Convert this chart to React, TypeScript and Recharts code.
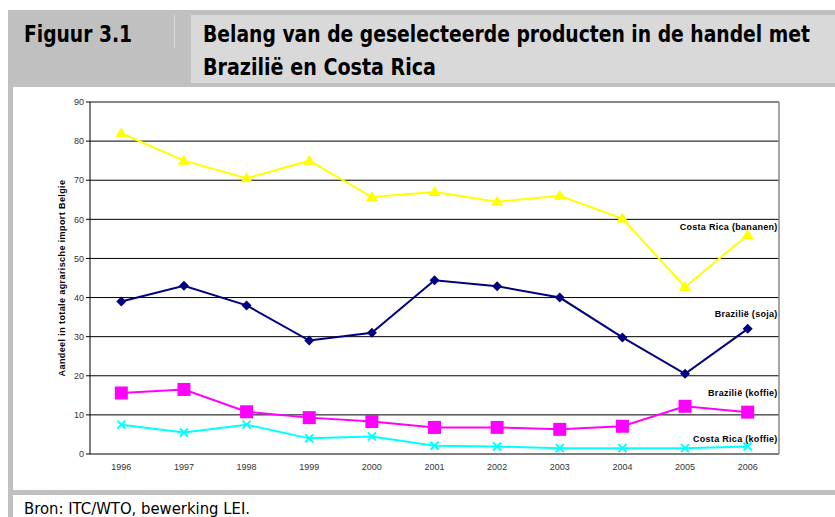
import {
  LineChart,
  Line,
  XAxis,
  YAxis,
  CartesianGrid,
  ReferenceLine,
  LabelList,
} from "recharts";

const years = [1996, 1997, 1998, 1999, 2000, 2001, 2002, 2003, 2004, 2005, 2006];
const crBananen = [82, 75, 70.5, 75, 65.7, 67, 64.5, 66, 60.2, 42.7, 56];
const brSoja = [39, 43, 38, 29, 31, 44.4, 42.9, 40, 29.8, 20.5, 32];
const brKoffie = [15.6, 16.5, 10.8, 9.3, 8.3, 6.8, 6.8, 6.3, 7.1, 12.2, 10.7];
const crKoffie = [7.5, 5.5, 7.5, 4, 4.5, 2.1, 1.9, 1.5, 1.5, 1.5, 1.9];
const yTicks = [0, 10, 20, 30, 40, 50, 60, 70, 80, 90];
const edgeTicks = [1995.5, 1996.5, 1997.5, 1998.5, 1999.5, 2000.5, 2001.5, 2002.5, 2003.5, 2004.5, 2005.5, 2006.5];

const data = years.map((year, i) => ({
  year,
  crBananen: crBananen[i],
  brSoja: brSoja[i],
  brKoffie: brKoffie[i],
  crKoffie: crKoffie[i],
}));

const headFont = '"DejaVu Sans", sans-serif';
const arial = '"Liberation Sans", Arial, sans-serif';

const triangle = (p: any) => (
  <polygon
    key={p.index}
    points={`${p.cx},${p.cy - 6} ${p.cx - 6},${p.cy + 4} ${p.cx + 6},${p.cy + 4}`}
    fill="#ffff00"
  />
);
const diamond = (p: any) => (
  <polygon
    key={p.index}
    points={`${p.cx},${p.cy - 5} ${p.cx + 5},${p.cy} ${p.cx},${p.cy + 5} ${p.cx - 5},${p.cy}`}
    fill="#000080"
  />
);
const square = (p: any) => (
  <rect key={p.index} x={p.cx - 6.5} y={p.cy - 6.5} width={13} height={13} fill="#ff00ff" />
);
const cross = (p: any) => (
  <g key={p.index} stroke="#00ffff" strokeWidth={2}>
    <line x1={p.cx - 4} y1={p.cy - 4} x2={p.cx + 4} y2={p.cy + 4} />
    <line x1={p.cx - 4} y1={p.cy + 4} x2={p.cx + 4} y2={p.cy - 4} />
  </g>
);

// name tag next to the last point of a series
const endLabel = (text: string, dy: number) => (p: any) => {
  if (p.index !== years.length - 1) return null;
  return (
    <text
      x={p.x + 30}
      y={p.y - dy}
      textAnchor="end"
      dominantBaseline="central"
      fontFamily={arial}
      fontSize={9}
      fontWeight="bold"
      letterSpacing={0.3}
      fill="#000"
    >
      {text}
    </text>
  );
};

// condensed header text: smaller font stretched up, then fit to the measured width
const SY = 0.78;
const Squeezed = ({ x, y, w, size, bold, children }: any) => (
  <g transform={`translate(${x},${y}) scale(1,${1 / SY})`}>
    <text
      x={0}
      y={0}
      fontFamily={headFont}
      fontWeight={bold ? "bold" : "normal"}
      fontSize={size * SY}
      fill="#000"
      textLength={w}
      lengthAdjust="spacingAndGlyphs"
    >
      {children}
    </text>
  </g>
);

export default function App() {
  return (
    <div style={{ position: "fixed", left: 0, top: 0, width: 835, height: 517, background: "#fff", overflow: "hidden" }}>
      {/* header, frame and source line */}
      <svg width={835} height={517} style={{ position: "absolute", left: 0, top: 0 }}>
        <rect x={8} y={10} width={827} height={77} fill="#c0c0c0" />
        <rect x={174} y={15} width={1} height={33} fill="#d9d9d9" />
        <rect x={191} y={15} width={644} height={68} fill="#d9d9d9" />
        <Squeezed x={24} y={41.5} w={108} size={23} bold>Figuur 3.1</Squeezed>
        <Squeezed x={203} y={41.5} w={607} size={23} bold>
          Belang van de geselecteerde producten in de handel met
        </Squeezed>
        <Squeezed x={203} y={75} w={233} size={23} bold>Brazilië en Costa Rica</Squeezed>
        <rect x={8} y={87} width={5} height={430} fill="#c0c0c0" />
        <rect x={8} y={490} width={827} height={5} fill="#c0c0c0" />
        <Squeezed x={24} y={514} w={226} size={16}>Bron: ITC/WTO, bewerking LEI.</Squeezed>
      </svg>

      <div style={{ position: "absolute", left: 0, top: 0 }}>
        <LineChart width={835} height={517} data={data} margin={{ top: 102, right: 56, left: 34, bottom: 33 }}>
          <CartesianGrid xAxisId="year" vertical={false} stroke="#000" strokeWidth={1} />
          <XAxis
            xAxisId="edge"
            type="number"
            dataKey="year"
            domain={[1995.5, 2006.5]}
            ticks={edgeTicks}
            interval={0}
            height={0}
            tick={false}
            tickSize={4}
            stroke="#000"
            axisLine={{ stroke: "#000" }}
          />
          <XAxis
            xAxisId="year"
            type="number"
            dataKey="year"
            domain={[1995.5, 2006.5]}
            ticks={years}
            interval={0}
            height={30}
            axisLine={false}
            tickLine={false}
            tickSize={4}
            tickMargin={6}
            tick={{ fill: "#333", fontSize: 9, fontFamily: arial }}
          />
          <YAxis
            domain={[0, 90]}
            ticks={yTicks}
            interval={0}
            width={56}
            tickSize={4}
            tickMargin={2}
            stroke="#000"
            tick={{ fill: "#333", fontSize: 9, fontFamily: arial }}
            label={{
              value: "Aandeel in totale agrarische import Belgie",
              angle: -90,
              position: "center",
              fontSize: 9,
              fontWeight: "bold",
              letterSpacing: 0.4,
              fontFamily: arial,
              fill: "#000",
            }}
          />
          <ReferenceLine xAxisId="year" y={90} stroke="#888" strokeWidth={1.5} />
          <ReferenceLine xAxisId="year" x={2006.5} stroke="#888" strokeWidth={1.5} />
          <Line xAxisId="year" type="linear" dataKey="crBananen" stroke="#ffff00" strokeWidth={2} dot={triangle} isAnimationActive={false}>
            <LabelList dataKey="crBananen" content={endLabel("Costa Rica (bananen)", 8)} />
          </Line>
          <Line xAxisId="year" type="linear" dataKey="brSoja" stroke="#000080" strokeWidth={2} dot={diamond} isAnimationActive={false}>
            <LabelList dataKey="brSoja" content={endLabel("Brazilië (soja)", 15)} />
          </Line>
          <Line xAxisId="year" type="linear" dataKey="brKoffie" stroke="#ff00ff" strokeWidth={2} dot={square} isAnimationActive={false}>
            <LabelList dataKey="brKoffie" content={endLabel("Brazilië (koffie)", 19)} />
          </Line>
          <Line xAxisId="year" type="linear" dataKey="crKoffie" stroke="#00ffff" strokeWidth={2} dot={cross} isAnimationActive={false}>
            <LabelList dataKey="crKoffie" content={endLabel("Costa Rica (koffie)", 8)} />
          </Line>
        </LineChart>
      </div>
    </div>
  );
}
